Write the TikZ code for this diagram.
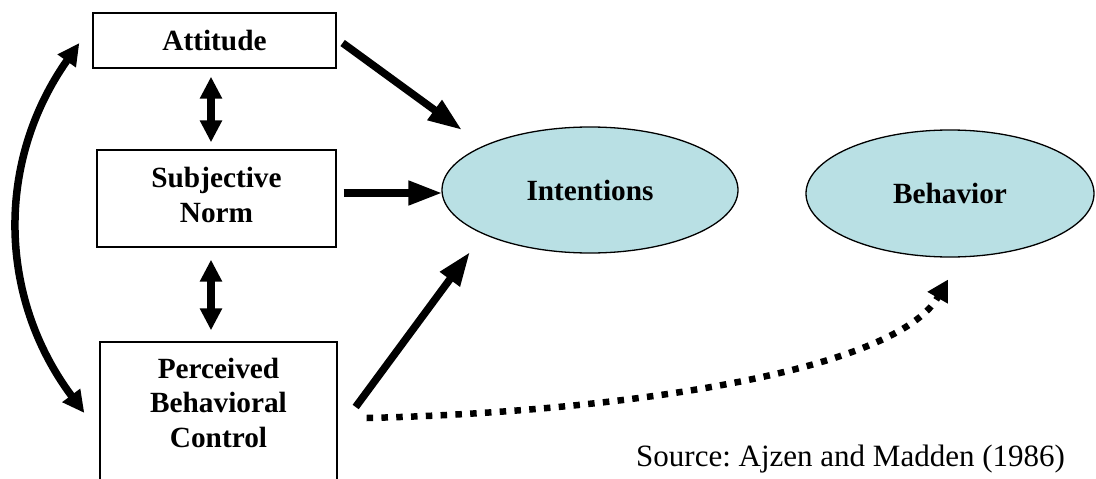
\documentclass[tikz,border=0pt]{standalone}
\usepackage{fontspec}
\setmainfont{Liberation Serif}[BoldFont={Liberation Serif Bold}]
\usetikzlibrary{arrows.meta,shapes.geometric,calc}

\definecolor{ovalfill}{RGB}{185,224,228}

\tikzset{
  box/.style={draw, line width=1.3pt, inner sep=0pt, align=center,
    font=\bfseries\fontsize{29.3pt}{34.5pt}\selectfont},
  oval/.style={ellipse, draw, line width=1.3pt, fill=ovalfill, inner sep=0pt,
    font=\bfseries\fontsize{29.3pt}{34.5pt}\selectfont},
  bigarrow/.style={line width=7.5pt, -{Triangle[length=34pt,width=23pt]}},
  twoway/.style={line width=7.5pt, {Triangle[length=22pt,width=21pt]}-{Triangle[length=22pt,width=21pt]}},
  dotarrow/.style={line width=6.5pt, dash pattern=on 6.5pt off 8.3pt,
    -{Triangle[length=21pt,width=22pt]}},
}

\begin{document}
\frenchspacing
\begin{tikzpicture}[x=1pt, y=-1pt]
\useasboundingbox (0,0) rectangle (1096,479);

% predictor boxes
\node[box, minimum width=243pt, minimum height=55pt] (att) at (214.5,40.5) {Attitude};
\node[box, minimum width=239pt, minimum height=97pt, text depth=7pt] (sn) at (216.5,198.5) {Subjective\\Norm};
\node[box, minimum width=237pt, minimum height=150pt, text depth=29pt] (pbc) at (218.5,417) {Perceived\\Behavioral\\Control};

% outcome ovals
\node[oval, minimum width=296pt, minimum height=126pt] (int) at (590,190) {Intentions};
\node[oval, minimum width=288pt, minimum height=127pt] (beh) at (950,193.5) {Behavior};

% links into intentions
\draw[bigarrow] ($(att.east)+(6,2.5)$) -- ($(int.center)+(-128,-60)$);
\draw[bigarrow] ($(sn.east)+(7,-5.5)$) -- ($(int.west)+(1,3)$);
\draw[bigarrow] ($(pbc.east)+(18,-10)$) -- ($(int.center)+(-120,62)$);

% correlations among predictors
\draw[twoway] ($(att.south)+(-3.5,8)$) -- ($(sn.north)+(-5.5,-7)$);
\draw[twoway] ($(sn.south)+(-5.5,12)$) -- ($(pbc.north)+(-7.5,-11)$);
\draw[twoway] ($(att.west)+(-13,2.5)$) to[bend right=36] ($(pbc.west)+(-15,-4)$);

% direct path from control to behavior
\draw[dotarrow] ($(pbc.east)+(29,1)$) .. controls (620,412) and (895,372) .. ($(beh.center)+(-2,86)$);

% citation
\node[anchor=base west, inner sep=0pt, font=\fontsize{31pt}{36pt}\selectfont] (src) at (636,466) {Source: Ajzen and Madden (1986)};
\end{tikzpicture}
\end{document}
